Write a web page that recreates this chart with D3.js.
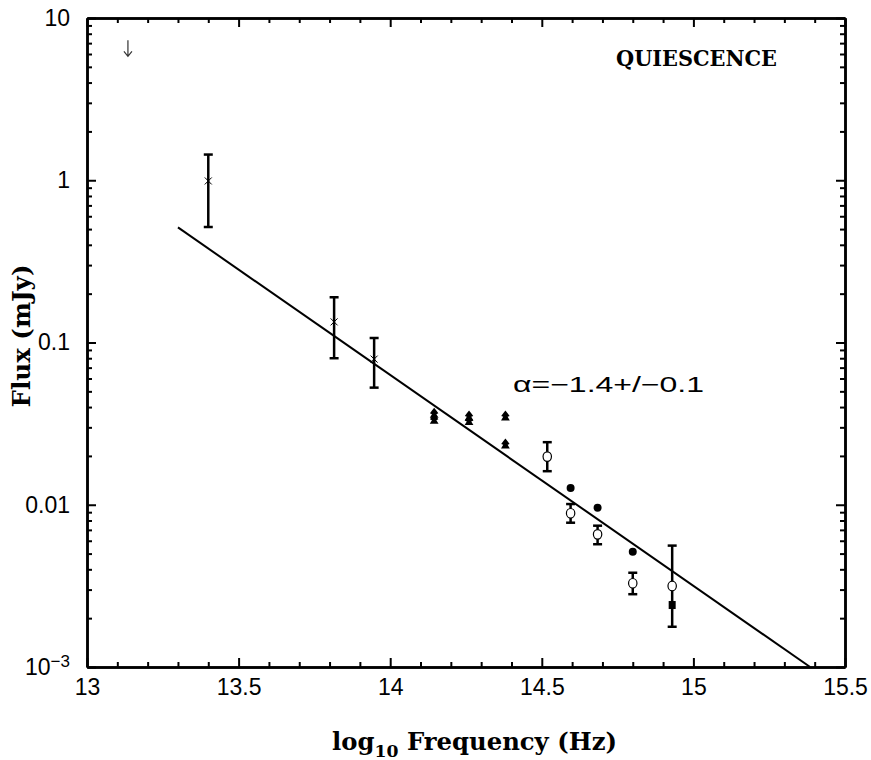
<!DOCTYPE html>
<html>
<head>
<meta charset="utf-8">
<script src="https://cdn.jsdelivr.net/npm/d3@7"></script>
<style>
  html, body { margin: 0; padding: 0; background: #fff; }
  svg { display: block; }
  .tick text { font-family: "Liberation Sans", Arial, sans-serif; font-size: 23px; fill: #000; }
</style>
</head>
<body>
<svg id="chart" width="871" height="760"></svg>
<script>
// ---------------- data ----------------
const xTicks = [13, 13.5, 14, 14.5, 15, 15.5];
const xTickLabels = ["13", "13.5", "14", "14.5", "15", "15.5"];
const yTicks = [10, 1, 0.1, 0.01, 0.001];
const yTickLabels = ["10", "1", "0.1", "0.01", "10^-3"];

// crosses with error bars
const crossX  = [13.40, 13.815, 13.947];
const crossY  = [0.99, 0.134, 0.079];
const crossLo = [0.515, 0.080, 0.0527];
const crossHi = [1.44, 0.190, 0.1066];

// filled "pagoda" markers
const triX = [14.145, 14.145, 14.26, 14.26, 14.38, 14.38];
const triY = [0.0366, 0.0336, 0.0352, 0.0330, 0.0352, 0.0237];

// filled circles
const filledX = [14.595, 14.684, 14.80];
const filledY = [0.0127, 0.0096, 0.00514];

// filled square
const squareX = [14.93];
const squareY = [0.00241];

// open circles with error bars
const openX  = [14.518, 14.595, 14.684, 14.80, 14.93];
const openY  = [0.0198, 0.00886, 0.00657, 0.00328, 0.00316];
const openLo = [0.0161, 0.00775, 0.00571, 0.00281, 0.00177];
const openHi = [0.0243, 0.0101, 0.00743, 0.00381, 0.0056];

// upper limit arrow
const limX   = [13.135];
const limTop = [7.3];
const limY   = [5.8];

// power-law fit line
const fitX = [13.3, 15.385];
const fitY = [0.512, 0.001];

// ---------------- layout ----------------
const L = 87, R = 845, T = 18, B = 667;
const svg = d3.select("#chart");
const x = d3.scaleLinear().domain([13, 15.5]).range([L, R]);
const y = d3.scaleLog().domain([0.001, 10]).range([B, T]);

const xMinor = d3.range(130, 156).map(v => v / 10).filter(v => Math.abs(v * 2 - Math.round(v * 2)) > 1e-6);
const yMinor = [];
[0.001, 0.01, 0.1, 1].forEach(d => { for (let k = 2; k <= 9; k++) yMinor.push(d * k); });

const MAJ = 9, MIN = 5;

function styleAxis(g) {
  g.selectAll("path.domain").attr("stroke", "#000").attr("stroke-width", 2.5);
  g.selectAll(".tick line").attr("stroke", "#000").attr("stroke-width", 2);
}

// bottom
svg.append("g").attr("transform", `translate(0,${B})`)
  .call(d3.axisBottom(x).tickValues(xTicks).tickSize(-MAJ).tickSizeOuter(0).tickPadding(12)
    .tickFormat((d, i) => xTickLabels[i]))
  .call(styleAxis);
svg.append("g").attr("transform", `translate(0,${B})`)
  .call(d3.axisBottom(x).tickValues(xMinor).tickSize(-MIN).tickSizeOuter(0).tickFormat(""))
  .call(styleAxis);
// top
svg.append("g").attr("transform", `translate(0,${T})`)
  .call(d3.axisTop(x).tickValues(xTicks).tickSize(-MAJ).tickSizeOuter(0).tickFormat(""))
  .call(styleAxis);
svg.append("g").attr("transform", `translate(0,${T})`)
  .call(d3.axisTop(x).tickValues(xMinor).tickSize(-MIN).tickSizeOuter(0).tickFormat(""))
  .call(styleAxis);
// left
const leftAx = svg.append("g").attr("transform", `translate(${L},0)`)
  .call(d3.axisLeft(y).tickValues(yTicks).tickSize(-MAJ).tickSizeOuter(0).tickPadding(17)
    .tickFormat((d, i) => yTickLabels[i]))
  .call(styleAxis);
svg.append("g").attr("transform", `translate(${L},0)`)
  .call(d3.axisLeft(y).tickValues(yMinor).tickSize(-MIN).tickSizeOuter(0).tickFormat(""))
  .call(styleAxis);
// right
svg.append("g").attr("transform", `translate(${R},0)`)
  .call(d3.axisRight(y).tickValues(yTicks).tickSize(-MAJ).tickSizeOuter(0).tickFormat(""))
  .call(styleAxis);
svg.append("g").attr("transform", `translate(${R},0)`)
  .call(d3.axisRight(y).tickValues(yMinor).tickSize(-MIN).tickSizeOuter(0).tickFormat(""))
  .call(styleAxis);

// superscript label for 10^-3
leftAx.selectAll(".tick text").each(function (d, i) {
  const lab = yTickLabels[i];
  if (lab.indexOf("^") >= 0) {
    const [base, exp] = lab.split("^");
    const t = d3.select(this).text("");
    t.append("tspan").text(base);
    t.append("tspan").attr("dy", "-0.45em").attr("font-size", "17px").text(exp.replace("-", "\u2212"));
  }
});

// ---------------- marks ----------------
const g = svg.append("g");

// fit line
g.append("line")
  .attr("x1", x(fitX[0])).attr("y1", y(fitY[0]))
  .attr("x2", x(fitX[1])).attr("y2", y(fitY[1]))
  .attr("stroke", "#000").attr("stroke-width", 2);

// error bars helper
function errBars(xs, lo, hi) {
  const eg = g.append("g").attr("stroke", "#000").attr("stroke-width", 2.5);
  xs.forEach((xv, i) => {
    const cx = x(xv), y1 = y(lo[i]), y2 = y(hi[i]);
    eg.append("line").attr("x1", cx).attr("x2", cx).attr("y1", y1).attr("y2", y2);
    eg.append("line").attr("x1", cx - 4.5).attr("x2", cx + 4.5).attr("y1", y1).attr("y2", y1);
    eg.append("line").attr("x1", cx - 4.5).attr("x2", cx + 4.5).attr("y1", y2).attr("y2", y2);
  });
}
errBars(crossX, crossLo, crossHi);
errBars(openX, openLo, openHi);

// crosses
crossX.forEach((xv, i) => {
  const cx = x(xv), cy = y(crossY[i]), s = 3.5;
  g.append("path")
    .attr("d", `M${cx - s},${cy - s}L${cx + s},${cy + s}M${cx - s},${cy + s}L${cx + s},${cy - s}`)
    .attr("stroke", "#000").attr("stroke-width", 1).attr("fill", "none");
});

// pagoda markers
const pagoda = "M0,-5.5 L2.2,-2.8 L4.2,0 L2.2,0.8 L4.4,4.5 L-4.4,4.5 L-2.2,0.8 L-4.2,0 L-2.2,-2.8 Z";
triX.forEach((xv, i) => {
  g.append("path").attr("d", pagoda)
    .attr("transform", `translate(${x(xv)},${y(triY[i])})`)
    .attr("fill", "#000");
});

// filled circles
filledX.forEach((xv, i) => {
  g.append("circle").attr("cx", x(xv)).attr("cy", y(filledY[i])).attr("r", 4).attr("fill", "#000");
});

// filled squares
squareX.forEach((xv, i) => {
  g.append("rect").attr("x", x(xv) - 3.5).attr("y", y(squareY[i]) - 4).attr("width", 7).attr("height", 8).attr("fill", "#000");
});

// open circles
openX.forEach((xv, i) => {
  g.append("ellipse").attr("cx", x(xv)).attr("cy", y(openY[i])).attr("rx", 4.2).attr("ry", 4.8)
    .attr("fill", "#fff").attr("stroke", "#000").attr("stroke-width", 1.2);
});

// upper-limit arrow
limX.forEach((xv, i) => {
  const cx = x(xv), y1 = y(limTop[i]), y2 = y(limY[i]);
  g.append("path")
    .attr("d", `M${cx},${y1}L${cx},${y2}M${cx - 4},${y2 - 5}L${cx},${y2}L${cx + 4},${y2 - 5}`)
    .attr("stroke", "#333").attr("stroke-width", 1.2).attr("fill", "none");
});

// ---------------- text ----------------
svg.append("text")
  .attr("x", 616).attr("y", 66)
  .attr("font-family", "'DejaVu Serif', serif").attr("font-weight", "bold").attr("font-size", "22px")
  .attr("textLength", 161).attr("lengthAdjust", "spacingAndGlyphs")
  .text("QUIESCENCE");

svg.append("text")
  .attr("x", 513).attr("y", 392)
  .attr("font-family", "'Liberation Sans', Arial, sans-serif").attr("font-size", "22px")
  .attr("textLength", 191).attr("lengthAdjust", "spacingAndGlyphs")
  .text("\u03b1=\u22121.4+/\u22120.1");

const xt = svg.append("text")
  .attr("x", 332).attr("y", 750)
  .attr("font-family", "'DejaVu Serif', serif").attr("font-weight", "bold").attr("font-size", "24px")
  .attr("textLength", 285).attr("lengthAdjust", "spacingAndGlyphs");
xt.append("tspan").text("log");
xt.append("tspan").attr("dy", "7").attr("font-size", "17px").text("10");
xt.append("tspan").attr("dy", "-7").text(" Frequency (Hz)");

svg.append("text")
  .attr("transform", "translate(30,336) rotate(-90)")
  .attr("text-anchor", "middle")
  .attr("font-family", "'DejaVu Serif', serif").attr("font-weight", "bold").attr("font-size", "24px")
  .attr("textLength", 143).attr("lengthAdjust", "spacingAndGlyphs")
  .text("Flux (mJy)");
</script>
</body>
</html>
